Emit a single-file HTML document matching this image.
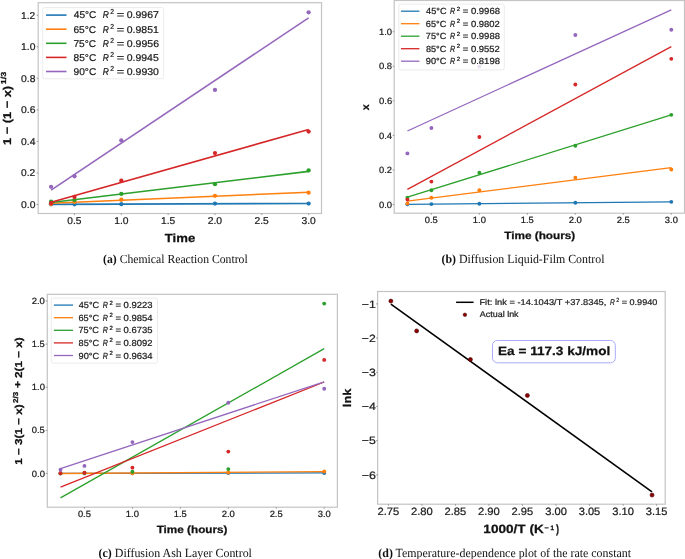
<!DOCTYPE html><html><head><meta charset="utf-8"><style>html,body{margin:0;padding:0;background:#fff;}svg{display:block;text-rendering:geometricPrecision;will-change:transform;} text{stroke:currentColor;stroke-width:0.22px;} text[font-weight=bold]{stroke-width:0.25px;}</style></head><body>
<svg width="685" height="559" viewBox="0 0 685 559" font-family='"Liberation Sans", sans-serif'>
<rect x="38.20" y="2.70" width="283.30" height="210.80" fill="none" stroke="#c4c4c4" stroke-width="1.2"/>
<circle cx="51.08" cy="204.34" r="2.15" fill="#1f77b4"/>
<circle cx="74.49" cy="204.34" r="2.15" fill="#1f77b4"/>
<circle cx="121.32" cy="204.18" r="2.15" fill="#1f77b4"/>
<circle cx="214.97" cy="203.55" r="2.15" fill="#1f77b4"/>
<circle cx="308.62" cy="203.55" r="2.15" fill="#1f77b4"/>
<line x1="51.08" y1="204.37" x2="308.62" y2="203.44" stroke="#1f77b4" stroke-width="1.6"/>
<circle cx="51.08" cy="204.03" r="2.15" fill="#ff7f0e"/>
<circle cx="74.49" cy="201.90" r="2.15" fill="#ff7f0e"/>
<circle cx="121.32" cy="199.77" r="2.15" fill="#ff7f0e"/>
<circle cx="214.97" cy="195.79" r="2.15" fill="#ff7f0e"/>
<circle cx="308.62" cy="192.67" r="2.15" fill="#ff7f0e"/>
<line x1="51.08" y1="203.23" x2="308.62" y2="192.23" stroke="#ff7f0e" stroke-width="1.6"/>
<circle cx="51.08" cy="201.66" r="2.15" fill="#2ca02c"/>
<circle cx="74.49" cy="200.10" r="2.15" fill="#2ca02c"/>
<circle cx="121.32" cy="193.93" r="2.15" fill="#2ca02c"/>
<circle cx="214.97" cy="184.15" r="2.15" fill="#2ca02c"/>
<circle cx="308.62" cy="170.43" r="2.15" fill="#2ca02c"/>
<line x1="51.08" y1="202.51" x2="308.62" y2="171.37" stroke="#2ca02c" stroke-width="1.6"/>
<circle cx="51.08" cy="203.24" r="2.15" fill="#d62728"/>
<circle cx="74.49" cy="196.99" r="2.15" fill="#d62728"/>
<circle cx="121.32" cy="180.68" r="2.15" fill="#d62728"/>
<circle cx="214.97" cy="153.07" r="2.15" fill="#d62728"/>
<circle cx="308.62" cy="131.62" r="2.15" fill="#d62728"/>
<line x1="51.08" y1="202.22" x2="308.62" y2="129.47" stroke="#d62728" stroke-width="1.6"/>
<circle cx="51.08" cy="186.83" r="2.15" fill="#9467bd"/>
<circle cx="74.49" cy="176.26" r="2.15" fill="#9467bd"/>
<circle cx="121.32" cy="140.45" r="2.15" fill="#9467bd"/>
<circle cx="214.97" cy="89.97" r="2.15" fill="#9467bd"/>
<circle cx="308.62" cy="12.36" r="2.15" fill="#9467bd"/>
<line x1="51.08" y1="190.06" x2="308.62" y2="17.85" stroke="#9467bd" stroke-width="1.6"/>
<line x1="74.49" y1="213.50" x2="74.49" y2="215.10" stroke="#666" stroke-width="0.6"/>
<text x="67.31" y="223.59" font-size="9.86" textLength="14.19" lengthAdjust="spacingAndGlyphs" fill="#1a1a1a" color="#1a1a1a">0.5</text>
<line x1="121.32" y1="213.50" x2="121.32" y2="215.10" stroke="#666" stroke-width="0.6"/>
<text x="114.16" y="223.59" font-size="9.86" textLength="14.34" lengthAdjust="spacingAndGlyphs" fill="#1a1a1a" color="#1a1a1a">1.0</text>
<line x1="168.14" y1="213.50" x2="168.14" y2="215.10" stroke="#666" stroke-width="0.6"/>
<text x="160.99" y="223.59" font-size="9.86" textLength="14.16" lengthAdjust="spacingAndGlyphs" fill="#1a1a1a" color="#1a1a1a">1.5</text>
<line x1="214.97" y1="213.50" x2="214.97" y2="215.10" stroke="#666" stroke-width="0.6"/>
<text x="207.73" y="223.59" font-size="9.86" textLength="14.42" lengthAdjust="spacingAndGlyphs" fill="#1a1a1a" color="#1a1a1a">2.0</text>
<line x1="261.80" y1="213.50" x2="261.80" y2="215.10" stroke="#666" stroke-width="0.6"/>
<text x="254.57" y="223.59" font-size="9.86" textLength="14.24" lengthAdjust="spacingAndGlyphs" fill="#1a1a1a" color="#1a1a1a">2.5</text>
<line x1="308.62" y1="213.50" x2="308.62" y2="215.10" stroke="#666" stroke-width="0.6"/>
<text x="301.55" y="223.59" font-size="9.86" textLength="14.26" lengthAdjust="spacingAndGlyphs" fill="#1a1a1a" color="#1a1a1a">3.0</text>
<line x1="36.60" y1="204.50" x2="38.20" y2="204.50" stroke="#666" stroke-width="0.6"/>
<text x="21.02" y="207.89" font-size="9.86" textLength="14.37" lengthAdjust="spacingAndGlyphs" fill="#1a1a1a" color="#1a1a1a">0.0</text>
<line x1="36.60" y1="172.95" x2="38.20" y2="172.95" stroke="#666" stroke-width="0.6"/>
<text x="21.03" y="176.34" font-size="9.86" textLength="14.16" lengthAdjust="spacingAndGlyphs" fill="#1a1a1a" color="#1a1a1a">0.2</text>
<line x1="36.60" y1="141.40" x2="38.20" y2="141.40" stroke="#666" stroke-width="0.6"/>
<text x="21.02" y="144.79" font-size="9.86" textLength="14.36" lengthAdjust="spacingAndGlyphs" fill="#1a1a1a" color="#1a1a1a">0.4</text>
<line x1="36.60" y1="109.85" x2="38.20" y2="109.85" stroke="#666" stroke-width="0.6"/>
<text x="21.02" y="113.24" font-size="9.86" textLength="14.45" lengthAdjust="spacingAndGlyphs" fill="#1a1a1a" color="#1a1a1a">0.6</text>
<line x1="36.60" y1="78.30" x2="38.20" y2="78.30" stroke="#666" stroke-width="0.6"/>
<text x="21.02" y="81.69" font-size="9.86" textLength="14.40" lengthAdjust="spacingAndGlyphs" fill="#1a1a1a" color="#1a1a1a">0.8</text>
<line x1="36.60" y1="46.75" x2="38.20" y2="46.75" stroke="#666" stroke-width="0.6"/>
<text x="21.05" y="50.14" font-size="9.86" textLength="14.34" lengthAdjust="spacingAndGlyphs" fill="#1a1a1a" color="#1a1a1a">1.0</text>
<line x1="36.60" y1="15.20" x2="38.20" y2="15.20" stroke="#666" stroke-width="0.6"/>
<text x="21.06" y="18.59" font-size="9.86" textLength="14.12" lengthAdjust="spacingAndGlyphs" fill="#1a1a1a" color="#1a1a1a">1.2</text>
<rect x="42.7" y="7.6" width="121" height="71.2" rx="2" fill="#fff" fill-opacity="0.8" stroke="#e6e6e6" stroke-width="0.8"/>
<line x1="46.00" y1="15.10" x2="66.50" y2="15.10" stroke="#1f77b4" stroke-width="1.6"/>
<text x="73.77" y="18.49" font-size="9.86" textLength="22.64" lengthAdjust="spacingAndGlyphs" fill="#1a1a1a" color="#1a1a1a">45°C</text>
<text x="102.74" y="18.49" font-size="9.86" font-style="italic" textLength="6.12" lengthAdjust="spacingAndGlyphs" fill="#1a1a1a" color="#1a1a1a">R</text>
<text x="110.36" y="14.49" font-size="7.29" textLength="3.78" lengthAdjust="spacingAndGlyphs" fill="#1a1a1a" color="#1a1a1a">2</text>
<text x="116.68" y="18.49" font-size="9.86" textLength="7.45" lengthAdjust="spacingAndGlyphs" fill="#1a1a1a" color="#1a1a1a">=</text>
<text x="126.79" y="18.49" font-size="9.86" textLength="32.07" lengthAdjust="spacingAndGlyphs" fill="#1a1a1a" color="#1a1a1a">0.9967</text>
<line x1="46.00" y1="29.20" x2="66.50" y2="29.20" stroke="#ff7f0e" stroke-width="1.6"/>
<text x="73.48" y="32.59" font-size="9.86" textLength="22.73" lengthAdjust="spacingAndGlyphs" fill="#1a1a1a" color="#1a1a1a">65°C</text>
<text x="102.74" y="32.59" font-size="9.86" font-style="italic" textLength="6.12" lengthAdjust="spacingAndGlyphs" fill="#1a1a1a" color="#1a1a1a">R</text>
<text x="110.36" y="28.59" font-size="7.29" textLength="3.78" lengthAdjust="spacingAndGlyphs" fill="#1a1a1a" color="#1a1a1a">2</text>
<text x="116.68" y="32.59" font-size="9.86" textLength="7.45" lengthAdjust="spacingAndGlyphs" fill="#1a1a1a" color="#1a1a1a">=</text>
<text x="126.79" y="32.59" font-size="9.86" textLength="31.99" lengthAdjust="spacingAndGlyphs" fill="#1a1a1a" color="#1a1a1a">0.9851</text>
<line x1="46.00" y1="43.30" x2="66.50" y2="43.30" stroke="#2ca02c" stroke-width="1.6"/>
<text x="73.48" y="46.69" font-size="9.86" textLength="22.61" lengthAdjust="spacingAndGlyphs" fill="#1a1a1a" color="#1a1a1a">75°C</text>
<text x="102.74" y="46.69" font-size="9.86" font-style="italic" textLength="6.12" lengthAdjust="spacingAndGlyphs" fill="#1a1a1a" color="#1a1a1a">R</text>
<text x="110.36" y="42.69" font-size="7.29" textLength="3.78" lengthAdjust="spacingAndGlyphs" fill="#1a1a1a" color="#1a1a1a">2</text>
<text x="116.68" y="46.69" font-size="9.86" textLength="7.45" lengthAdjust="spacingAndGlyphs" fill="#1a1a1a" color="#1a1a1a">=</text>
<text x="126.79" y="46.69" font-size="9.86" textLength="32.22" lengthAdjust="spacingAndGlyphs" fill="#1a1a1a" color="#1a1a1a">0.9956</text>
<line x1="46.00" y1="57.40" x2="66.50" y2="57.40" stroke="#d62728" stroke-width="1.6"/>
<text x="73.56" y="60.79" font-size="9.86" textLength="22.67" lengthAdjust="spacingAndGlyphs" fill="#1a1a1a" color="#1a1a1a">85°C</text>
<text x="102.74" y="60.79" font-size="9.86" font-style="italic" textLength="6.12" lengthAdjust="spacingAndGlyphs" fill="#1a1a1a" color="#1a1a1a">R</text>
<text x="110.36" y="56.79" font-size="7.29" textLength="3.78" lengthAdjust="spacingAndGlyphs" fill="#1a1a1a" color="#1a1a1a">2</text>
<text x="116.68" y="60.79" font-size="9.86" textLength="7.45" lengthAdjust="spacingAndGlyphs" fill="#1a1a1a" color="#1a1a1a">=</text>
<text x="126.79" y="60.79" font-size="9.86" textLength="31.96" lengthAdjust="spacingAndGlyphs" fill="#1a1a1a" color="#1a1a1a">0.9945</text>
<line x1="46.00" y1="71.50" x2="66.50" y2="71.50" stroke="#9467bd" stroke-width="1.6"/>
<text x="73.52" y="74.89" font-size="9.86" textLength="22.75" lengthAdjust="spacingAndGlyphs" fill="#1a1a1a" color="#1a1a1a">90°C</text>
<text x="102.74" y="74.89" font-size="9.86" font-style="italic" textLength="6.12" lengthAdjust="spacingAndGlyphs" fill="#1a1a1a" color="#1a1a1a">R</text>
<text x="110.36" y="70.89" font-size="7.29" textLength="3.78" lengthAdjust="spacingAndGlyphs" fill="#1a1a1a" color="#1a1a1a">2</text>
<text x="116.68" y="74.89" font-size="9.86" textLength="7.45" lengthAdjust="spacingAndGlyphs" fill="#1a1a1a" color="#1a1a1a">=</text>
<text x="126.79" y="74.89" font-size="9.86" textLength="32.13" lengthAdjust="spacingAndGlyphs" fill="#1a1a1a" color="#1a1a1a">0.9930</text>
<text transform="translate(10.60,145.01) rotate(-90)" font-size="11.24" font-weight="bold" textLength="59.15" lengthAdjust="spacingAndGlyphs" fill="#111" color="#111">1 − (1 − x)</text>
<text transform="translate(6.30,84.27) rotate(-90)" font-size="7.31" font-weight="bold" textLength="12.60" lengthAdjust="spacingAndGlyphs" fill="#111" color="#111">1/3</text>
<text x="164.85" y="242.10" font-size="11.66" font-weight="bold" textLength="30.39" lengthAdjust="spacingAndGlyphs" fill="#111" color="#111">Time</text>
<text x="175.40" y="263.00" font-family='"Liberation Serif", serif' font-size="12.29" text-anchor="middle" textLength="144.59" lengthAdjust="spacingAndGlyphs" fill="#111" style="stroke:none"><tspan font-weight="bold">(a)</tspan> Chemical Reaction Control</text>
<circle cx="407.40" cy="204.25" r="1.95" fill="#1f77b4"/>
<circle cx="431.39" cy="204.08" r="1.95" fill="#1f77b4"/>
<circle cx="479.37" cy="203.74" r="1.95" fill="#1f77b4"/>
<circle cx="575.34" cy="202.80" r="1.95" fill="#1f77b4"/>
<circle cx="671.30" cy="201.83" r="1.95" fill="#1f77b4"/>
<line x1="407.40" y1="204.32" x2="671.30" y2="201.88" stroke="#1f77b4" stroke-width="1.3"/>
<circle cx="407.40" cy="203.39" r="1.95" fill="#ff7f0e"/>
<circle cx="431.39" cy="197.68" r="1.95" fill="#ff7f0e"/>
<circle cx="479.37" cy="190.25" r="1.95" fill="#ff7f0e"/>
<circle cx="575.34" cy="177.63" r="1.95" fill="#ff7f0e"/>
<circle cx="671.30" cy="169.50" r="1.95" fill="#ff7f0e"/>
<line x1="407.40" y1="201.06" x2="671.30" y2="167.63" stroke="#ff7f0e" stroke-width="1.3"/>
<circle cx="407.40" cy="197.68" r="1.95" fill="#2ca02c"/>
<circle cx="431.39" cy="190.25" r="1.95" fill="#2ca02c"/>
<circle cx="479.37" cy="172.79" r="1.95" fill="#2ca02c"/>
<circle cx="575.34" cy="145.81" r="1.95" fill="#2ca02c"/>
<circle cx="671.30" cy="114.86" r="1.95" fill="#2ca02c"/>
<line x1="407.40" y1="197.14" x2="671.30" y2="114.99" stroke="#2ca02c" stroke-width="1.3"/>
<circle cx="407.40" cy="199.59" r="1.95" fill="#d62728"/>
<circle cx="431.39" cy="181.60" r="1.95" fill="#d62728"/>
<circle cx="479.37" cy="137.00" r="1.95" fill="#d62728"/>
<circle cx="575.34" cy="84.43" r="1.95" fill="#d62728"/>
<circle cx="671.30" cy="58.85" r="1.95" fill="#d62728"/>
<line x1="407.40" y1="189.38" x2="671.30" y2="46.66" stroke="#d62728" stroke-width="1.3"/>
<circle cx="407.40" cy="153.42" r="1.95" fill="#9467bd"/>
<circle cx="431.39" cy="128.01" r="1.95" fill="#9467bd"/>
<circle cx="479.37" cy="66.45" r="1.95" fill="#9467bd"/>
<circle cx="575.34" cy="34.99" r="1.95" fill="#9467bd"/>
<circle cx="671.30" cy="29.69" r="1.95" fill="#9467bd"/>
<line x1="407.40" y1="130.97" x2="671.30" y2="9.82" stroke="#9467bd" stroke-width="1.3"/>
<rect x="394.20" y="0.50" width="290.30" height="212.70" fill="none" stroke="#c4c4c4" stroke-width="1.2"/>
<line x1="431.39" y1="213.20" x2="431.39" y2="214.80" stroke="#666" stroke-width="0.6"/>
<text x="424.82" y="222.70" font-size="9.01" textLength="12.97" lengthAdjust="spacingAndGlyphs" fill="#1a1a1a" color="#1a1a1a">0.5</text>
<line x1="479.37" y1="213.20" x2="479.37" y2="214.80" stroke="#666" stroke-width="0.6"/>
<text x="472.83" y="222.70" font-size="9.01" textLength="13.11" lengthAdjust="spacingAndGlyphs" fill="#1a1a1a" color="#1a1a1a">1.0</text>
<line x1="527.35" y1="213.20" x2="527.35" y2="214.80" stroke="#666" stroke-width="0.6"/>
<text x="520.82" y="222.70" font-size="9.01" textLength="12.94" lengthAdjust="spacingAndGlyphs" fill="#1a1a1a" color="#1a1a1a">1.5</text>
<line x1="575.34" y1="213.20" x2="575.34" y2="214.80" stroke="#666" stroke-width="0.6"/>
<text x="568.72" y="222.70" font-size="9.01" textLength="13.18" lengthAdjust="spacingAndGlyphs" fill="#1a1a1a" color="#1a1a1a">2.0</text>
<line x1="623.32" y1="213.20" x2="623.32" y2="214.80" stroke="#666" stroke-width="0.6"/>
<text x="616.71" y="222.70" font-size="9.01" textLength="13.02" lengthAdjust="spacingAndGlyphs" fill="#1a1a1a" color="#1a1a1a">2.5</text>
<line x1="671.30" y1="213.20" x2="671.30" y2="214.80" stroke="#666" stroke-width="0.6"/>
<text x="664.84" y="222.70" font-size="9.01" textLength="13.03" lengthAdjust="spacingAndGlyphs" fill="#1a1a1a" color="#1a1a1a">3.0</text>
<line x1="392.60" y1="204.60" x2="394.20" y2="204.60" stroke="#666" stroke-width="0.6"/>
<text x="378.97" y="207.70" font-size="9.01" textLength="13.13" lengthAdjust="spacingAndGlyphs" fill="#1a1a1a" color="#1a1a1a">0.0</text>
<line x1="392.60" y1="170.02" x2="394.20" y2="170.02" stroke="#666" stroke-width="0.6"/>
<text x="378.98" y="173.12" font-size="9.01" textLength="12.94" lengthAdjust="spacingAndGlyphs" fill="#1a1a1a" color="#1a1a1a">0.2</text>
<line x1="392.60" y1="135.44" x2="394.20" y2="135.44" stroke="#666" stroke-width="0.6"/>
<text x="378.97" y="138.54" font-size="9.01" textLength="13.13" lengthAdjust="spacingAndGlyphs" fill="#1a1a1a" color="#1a1a1a">0.4</text>
<line x1="392.60" y1="100.86" x2="394.20" y2="100.86" stroke="#666" stroke-width="0.6"/>
<text x="378.97" y="103.96" font-size="9.01" textLength="13.21" lengthAdjust="spacingAndGlyphs" fill="#1a1a1a" color="#1a1a1a">0.6</text>
<line x1="392.60" y1="66.28" x2="394.20" y2="66.28" stroke="#666" stroke-width="0.6"/>
<text x="378.97" y="69.38" font-size="9.01" textLength="13.16" lengthAdjust="spacingAndGlyphs" fill="#1a1a1a" color="#1a1a1a">0.8</text>
<line x1="392.60" y1="31.70" x2="394.20" y2="31.70" stroke="#666" stroke-width="0.6"/>
<text x="379.00" y="34.80" font-size="9.01" textLength="13.11" lengthAdjust="spacingAndGlyphs" fill="#1a1a1a" color="#1a1a1a">1.0</text>
<rect x="398.8" y="4.1" width="105.5" height="65.8" rx="2" fill="#fff" fill-opacity="0.8" stroke="#e6e6e6" stroke-width="0.8"/>
<line x1="401.00" y1="11.20" x2="419.40" y2="11.20" stroke="#1f77b4" stroke-width="1.3"/>
<text x="426.09" y="14.26" font-size="8.90" textLength="20.45" lengthAdjust="spacingAndGlyphs" fill="#1a1a1a" color="#1a1a1a">45°C</text>
<text x="449.98" y="14.26" font-size="8.90" font-style="italic" textLength="5.14" lengthAdjust="spacingAndGlyphs" fill="#1a1a1a" color="#1a1a1a">R</text>
<text x="456.70" y="10.73" font-size="6.05" textLength="3.30" lengthAdjust="spacingAndGlyphs" fill="#1a1a1a" color="#1a1a1a">2</text>
<text x="462.74" y="14.26" font-size="8.90" textLength="5.53" lengthAdjust="spacingAndGlyphs" fill="#1a1a1a" color="#1a1a1a">=</text>
<text x="470.93" y="14.26" font-size="8.90" textLength="29.05" lengthAdjust="spacingAndGlyphs" fill="#1a1a1a" color="#1a1a1a">0.9968</text>
<line x1="401.00" y1="23.70" x2="419.40" y2="23.70" stroke="#ff7f0e" stroke-width="1.3"/>
<text x="425.83" y="26.76" font-size="8.90" textLength="20.53" lengthAdjust="spacingAndGlyphs" fill="#1a1a1a" color="#1a1a1a">65°C</text>
<text x="449.98" y="26.76" font-size="8.90" font-style="italic" textLength="5.14" lengthAdjust="spacingAndGlyphs" fill="#1a1a1a" color="#1a1a1a">R</text>
<text x="456.70" y="23.23" font-size="6.05" textLength="3.30" lengthAdjust="spacingAndGlyphs" fill="#1a1a1a" color="#1a1a1a">2</text>
<text x="462.74" y="26.76" font-size="8.90" textLength="5.53" lengthAdjust="spacingAndGlyphs" fill="#1a1a1a" color="#1a1a1a">=</text>
<text x="470.93" y="26.76" font-size="8.90" textLength="28.84" lengthAdjust="spacingAndGlyphs" fill="#1a1a1a" color="#1a1a1a">0.9802</text>
<line x1="401.00" y1="36.20" x2="419.40" y2="36.20" stroke="#2ca02c" stroke-width="1.3"/>
<text x="425.83" y="39.26" font-size="8.90" textLength="20.43" lengthAdjust="spacingAndGlyphs" fill="#1a1a1a" color="#1a1a1a">75°C</text>
<text x="449.98" y="39.26" font-size="8.90" font-style="italic" textLength="5.14" lengthAdjust="spacingAndGlyphs" fill="#1a1a1a" color="#1a1a1a">R</text>
<text x="456.70" y="35.73" font-size="6.05" textLength="3.30" lengthAdjust="spacingAndGlyphs" fill="#1a1a1a" color="#1a1a1a">2</text>
<text x="462.74" y="39.26" font-size="8.90" textLength="5.53" lengthAdjust="spacingAndGlyphs" fill="#1a1a1a" color="#1a1a1a">=</text>
<text x="470.93" y="39.26" font-size="8.90" textLength="29.05" lengthAdjust="spacingAndGlyphs" fill="#1a1a1a" color="#1a1a1a">0.9988</text>
<line x1="401.00" y1="48.70" x2="419.40" y2="48.70" stroke="#d62728" stroke-width="1.3"/>
<text x="425.90" y="51.76" font-size="8.90" textLength="20.48" lengthAdjust="spacingAndGlyphs" fill="#1a1a1a" color="#1a1a1a">85°C</text>
<text x="449.98" y="51.76" font-size="8.90" font-style="italic" textLength="5.14" lengthAdjust="spacingAndGlyphs" fill="#1a1a1a" color="#1a1a1a">R</text>
<text x="456.70" y="48.23" font-size="6.05" textLength="3.30" lengthAdjust="spacingAndGlyphs" fill="#1a1a1a" color="#1a1a1a">2</text>
<text x="462.74" y="51.76" font-size="8.90" textLength="5.53" lengthAdjust="spacingAndGlyphs" fill="#1a1a1a" color="#1a1a1a">=</text>
<text x="470.93" y="51.76" font-size="8.90" textLength="28.84" lengthAdjust="spacingAndGlyphs" fill="#1a1a1a" color="#1a1a1a">0.9552</text>
<line x1="401.00" y1="61.20" x2="419.40" y2="61.20" stroke="#9467bd" stroke-width="1.3"/>
<text x="425.87" y="64.26" font-size="8.90" textLength="20.55" lengthAdjust="spacingAndGlyphs" fill="#1a1a1a" color="#1a1a1a">90°C</text>
<text x="449.98" y="64.26" font-size="8.90" font-style="italic" textLength="5.14" lengthAdjust="spacingAndGlyphs" fill="#1a1a1a" color="#1a1a1a">R</text>
<text x="456.70" y="60.73" font-size="6.05" textLength="3.30" lengthAdjust="spacingAndGlyphs" fill="#1a1a1a" color="#1a1a1a">2</text>
<text x="462.74" y="64.26" font-size="8.90" textLength="5.53" lengthAdjust="spacingAndGlyphs" fill="#1a1a1a" color="#1a1a1a">=</text>
<text x="470.93" y="64.26" font-size="8.90" textLength="29.05" lengthAdjust="spacingAndGlyphs" fill="#1a1a1a" color="#1a1a1a">0.8198</text>
<text transform="translate(369.20,110.37) rotate(-90)" font-size="10.44" font-weight="bold" textLength="5.95" lengthAdjust="spacingAndGlyphs" fill="#111" color="#111">x</text>
<text x="504.27" y="239.00" font-size="10.44" font-weight="bold" textLength="71.02" lengthAdjust="spacingAndGlyphs" fill="#111" color="#111">Time (hours)</text>
<text x="523.00" y="262.90" font-family='"Liberation Serif", serif' font-size="12.44" text-anchor="middle" textLength="162.94" lengthAdjust="spacingAndGlyphs" fill="#111" style="stroke:none"><tspan font-weight="bold">(b)</tspan> Diffusion Liquid-Film Control</text>
<circle cx="60.49" cy="473.41" r="1.95" fill="#1f77b4"/>
<circle cx="84.46" cy="473.41" r="1.95" fill="#1f77b4"/>
<circle cx="132.41" cy="473.24" r="1.95" fill="#1f77b4"/>
<circle cx="228.31" cy="472.98" r="1.95" fill="#1f77b4"/>
<circle cx="324.21" cy="472.98" r="1.95" fill="#1f77b4"/>
<line x1="60.49" y1="473.40" x2="324.21" y2="472.91" stroke="#1f77b4" stroke-width="1.3"/>
<circle cx="60.49" cy="473.41" r="1.95" fill="#ff7f0e"/>
<circle cx="84.46" cy="473.15" r="1.95" fill="#ff7f0e"/>
<circle cx="132.41" cy="473.24" r="1.95" fill="#ff7f0e"/>
<circle cx="228.31" cy="472.46" r="1.95" fill="#ff7f0e"/>
<circle cx="324.21" cy="471.52" r="1.95" fill="#ff7f0e"/>
<line x1="60.49" y1="473.49" x2="324.21" y2="471.66" stroke="#ff7f0e" stroke-width="1.3"/>
<circle cx="60.49" cy="473.41" r="1.95" fill="#2ca02c"/>
<circle cx="84.46" cy="472.98" r="1.95" fill="#2ca02c"/>
<circle cx="132.41" cy="471.77" r="1.95" fill="#2ca02c"/>
<circle cx="228.31" cy="469.10" r="1.95" fill="#2ca02c"/>
<circle cx="324.21" cy="303.59" r="1.95" fill="#2ca02c"/>
<line x1="60.49" y1="497.84" x2="324.21" y2="348.67" stroke="#2ca02c" stroke-width="1.3"/>
<circle cx="60.49" cy="473.24" r="1.95" fill="#d62728"/>
<circle cx="84.46" cy="472.81" r="1.95" fill="#d62728"/>
<circle cx="132.41" cy="467.63" r="1.95" fill="#d62728"/>
<circle cx="228.31" cy="451.59" r="1.95" fill="#d62728"/>
<circle cx="324.21" cy="359.91" r="1.95" fill="#d62728"/>
<line x1="60.49" y1="487.08" x2="324.21" y2="381.98" stroke="#d62728" stroke-width="1.3"/>
<circle cx="60.49" cy="469.79" r="1.95" fill="#9467bd"/>
<circle cx="84.46" cy="465.91" r="1.95" fill="#9467bd"/>
<circle cx="132.41" cy="442.11" r="1.95" fill="#9467bd"/>
<circle cx="228.31" cy="402.77" r="1.95" fill="#9467bd"/>
<circle cx="324.21" cy="388.80" r="1.95" fill="#9467bd"/>
<line x1="60.49" y1="468.61" x2="324.21" y2="381.77" stroke="#9467bd" stroke-width="1.3"/>
<rect x="47.30" y="294.30" width="290.10" height="212.90" fill="none" stroke="#c4c4c4" stroke-width="1.2"/>
<line x1="84.46" y1="507.20" x2="84.46" y2="508.80" stroke="#666" stroke-width="0.6"/>
<text x="77.90" y="516.50" font-size="9.01" textLength="12.97" lengthAdjust="spacingAndGlyphs" fill="#1a1a1a" color="#1a1a1a">0.5</text>
<line x1="132.41" y1="507.20" x2="132.41" y2="508.80" stroke="#666" stroke-width="0.6"/>
<text x="125.87" y="516.50" font-size="9.01" textLength="13.11" lengthAdjust="spacingAndGlyphs" fill="#1a1a1a" color="#1a1a1a">1.0</text>
<line x1="180.36" y1="507.20" x2="180.36" y2="508.80" stroke="#666" stroke-width="0.6"/>
<text x="173.83" y="516.50" font-size="9.01" textLength="12.94" lengthAdjust="spacingAndGlyphs" fill="#1a1a1a" color="#1a1a1a">1.5</text>
<line x1="228.31" y1="507.20" x2="228.31" y2="508.80" stroke="#666" stroke-width="0.6"/>
<text x="221.70" y="516.50" font-size="9.01" textLength="13.18" lengthAdjust="spacingAndGlyphs" fill="#1a1a1a" color="#1a1a1a">2.0</text>
<line x1="276.26" y1="507.20" x2="276.26" y2="508.80" stroke="#666" stroke-width="0.6"/>
<text x="269.66" y="516.50" font-size="9.01" textLength="13.02" lengthAdjust="spacingAndGlyphs" fill="#1a1a1a" color="#1a1a1a">2.5</text>
<line x1="324.21" y1="507.20" x2="324.21" y2="508.80" stroke="#666" stroke-width="0.6"/>
<text x="317.75" y="516.50" font-size="9.01" textLength="13.03" lengthAdjust="spacingAndGlyphs" fill="#1a1a1a" color="#1a1a1a">3.0</text>
<line x1="45.70" y1="473.50" x2="47.30" y2="473.50" stroke="#666" stroke-width="0.6"/>
<text x="31.77" y="476.60" font-size="9.01" textLength="13.13" lengthAdjust="spacingAndGlyphs" fill="#1a1a1a" color="#1a1a1a">0.0</text>
<line x1="45.70" y1="430.38" x2="47.30" y2="430.38" stroke="#666" stroke-width="0.6"/>
<text x="31.78" y="433.47" font-size="9.01" textLength="12.97" lengthAdjust="spacingAndGlyphs" fill="#1a1a1a" color="#1a1a1a">0.5</text>
<line x1="45.70" y1="387.25" x2="47.30" y2="387.25" stroke="#666" stroke-width="0.6"/>
<text x="31.80" y="390.35" font-size="9.01" textLength="13.11" lengthAdjust="spacingAndGlyphs" fill="#1a1a1a" color="#1a1a1a">1.0</text>
<line x1="45.70" y1="344.12" x2="47.30" y2="344.12" stroke="#666" stroke-width="0.6"/>
<text x="31.81" y="347.22" font-size="9.01" textLength="12.94" lengthAdjust="spacingAndGlyphs" fill="#1a1a1a" color="#1a1a1a">1.5</text>
<line x1="45.70" y1="301.00" x2="47.30" y2="301.00" stroke="#666" stroke-width="0.6"/>
<text x="31.73" y="304.10" font-size="9.01" textLength="13.18" lengthAdjust="spacingAndGlyphs" fill="#1a1a1a" color="#1a1a1a">2.0</text>
<rect x="51.3" y="298.1" width="106.2" height="65.1" rx="2" fill="#fff" fill-opacity="0.8" stroke="#e6e6e6" stroke-width="0.8"/>
<line x1="53.90" y1="305.10" x2="73.00" y2="305.10" stroke="#1f77b4" stroke-width="1.3"/>
<text x="78.79" y="308.16" font-size="8.90" textLength="20.45" lengthAdjust="spacingAndGlyphs" fill="#1a1a1a" color="#1a1a1a">45°C</text>
<text x="102.68" y="308.16" font-size="8.90" font-style="italic" textLength="5.14" lengthAdjust="spacingAndGlyphs" fill="#1a1a1a" color="#1a1a1a">R</text>
<text x="109.40" y="304.63" font-size="6.05" textLength="3.30" lengthAdjust="spacingAndGlyphs" fill="#1a1a1a" color="#1a1a1a">2</text>
<text x="115.44" y="308.16" font-size="8.90" textLength="5.53" lengthAdjust="spacingAndGlyphs" fill="#1a1a1a" color="#1a1a1a">=</text>
<text x="123.63" y="308.16" font-size="8.90" textLength="28.95" lengthAdjust="spacingAndGlyphs" fill="#1a1a1a" color="#1a1a1a">0.9223</text>
<line x1="53.90" y1="317.70" x2="73.00" y2="317.70" stroke="#ff7f0e" stroke-width="1.3"/>
<text x="78.53" y="320.76" font-size="8.90" textLength="20.53" lengthAdjust="spacingAndGlyphs" fill="#1a1a1a" color="#1a1a1a">65°C</text>
<text x="102.68" y="320.76" font-size="8.90" font-style="italic" textLength="5.14" lengthAdjust="spacingAndGlyphs" fill="#1a1a1a" color="#1a1a1a">R</text>
<text x="109.40" y="317.23" font-size="6.05" textLength="3.30" lengthAdjust="spacingAndGlyphs" fill="#1a1a1a" color="#1a1a1a">2</text>
<text x="115.44" y="320.76" font-size="8.90" textLength="5.53" lengthAdjust="spacingAndGlyphs" fill="#1a1a1a" color="#1a1a1a">=</text>
<text x="123.63" y="320.76" font-size="8.90" textLength="29.01" lengthAdjust="spacingAndGlyphs" fill="#1a1a1a" color="#1a1a1a">0.9854</text>
<line x1="53.90" y1="330.30" x2="73.00" y2="330.30" stroke="#2ca02c" stroke-width="1.3"/>
<text x="78.53" y="333.36" font-size="8.90" textLength="20.43" lengthAdjust="spacingAndGlyphs" fill="#1a1a1a" color="#1a1a1a">75°C</text>
<text x="102.68" y="333.36" font-size="8.90" font-style="italic" textLength="5.14" lengthAdjust="spacingAndGlyphs" fill="#1a1a1a" color="#1a1a1a">R</text>
<text x="109.40" y="329.83" font-size="6.05" textLength="3.30" lengthAdjust="spacingAndGlyphs" fill="#1a1a1a" color="#1a1a1a">2</text>
<text x="115.44" y="333.36" font-size="8.90" textLength="5.53" lengthAdjust="spacingAndGlyphs" fill="#1a1a1a" color="#1a1a1a">=</text>
<text x="123.63" y="333.36" font-size="8.90" textLength="28.87" lengthAdjust="spacingAndGlyphs" fill="#1a1a1a" color="#1a1a1a">0.6735</text>
<line x1="53.90" y1="342.90" x2="73.00" y2="342.90" stroke="#d62728" stroke-width="1.3"/>
<text x="78.60" y="345.96" font-size="8.90" textLength="20.48" lengthAdjust="spacingAndGlyphs" fill="#1a1a1a" color="#1a1a1a">85°C</text>
<text x="102.68" y="345.96" font-size="8.90" font-style="italic" textLength="5.14" lengthAdjust="spacingAndGlyphs" fill="#1a1a1a" color="#1a1a1a">R</text>
<text x="109.40" y="342.43" font-size="6.05" textLength="3.30" lengthAdjust="spacingAndGlyphs" fill="#1a1a1a" color="#1a1a1a">2</text>
<text x="115.44" y="345.96" font-size="8.90" textLength="5.53" lengthAdjust="spacingAndGlyphs" fill="#1a1a1a" color="#1a1a1a">=</text>
<text x="123.63" y="345.96" font-size="8.90" textLength="28.84" lengthAdjust="spacingAndGlyphs" fill="#1a1a1a" color="#1a1a1a">0.8092</text>
<line x1="53.90" y1="355.50" x2="73.00" y2="355.50" stroke="#9467bd" stroke-width="1.3"/>
<text x="78.57" y="358.56" font-size="8.90" textLength="20.55" lengthAdjust="spacingAndGlyphs" fill="#1a1a1a" color="#1a1a1a">90°C</text>
<text x="102.68" y="358.56" font-size="8.90" font-style="italic" textLength="5.14" lengthAdjust="spacingAndGlyphs" fill="#1a1a1a" color="#1a1a1a">R</text>
<text x="109.40" y="355.03" font-size="6.05" textLength="3.30" lengthAdjust="spacingAndGlyphs" fill="#1a1a1a" color="#1a1a1a">2</text>
<text x="115.44" y="358.56" font-size="8.90" textLength="5.53" lengthAdjust="spacingAndGlyphs" fill="#1a1a1a" color="#1a1a1a">=</text>
<text x="123.63" y="358.56" font-size="8.90" textLength="29.01" lengthAdjust="spacingAndGlyphs" fill="#1a1a1a" color="#1a1a1a">0.9634</text>
<text transform="translate(22.10,464.74) rotate(-90)" font-size="10.07" font-weight="bold" textLength="60.52" lengthAdjust="spacingAndGlyphs" fill="#111" color="#111">1 − 3(1 − x)</text>
<text transform="translate(18.30,402.88) rotate(-90)" font-size="7.10" font-weight="bold" textLength="11.27" lengthAdjust="spacingAndGlyphs" fill="#111" color="#111">2/3</text>
<text transform="translate(21.30,388.10) rotate(-90)" font-size="10.07" font-weight="bold" textLength="6.99" lengthAdjust="spacingAndGlyphs" fill="#111" color="#111">+</text>
<text transform="translate(22.10,377.91) rotate(-90)" font-size="10.07" font-weight="bold" textLength="40.69" lengthAdjust="spacingAndGlyphs" fill="#111" color="#111">2(1 − x)</text>
<text x="156.67" y="532.90" font-size="10.44" font-weight="bold" textLength="70.81" lengthAdjust="spacingAndGlyphs" fill="#111" color="#111">Time (hours)</text>
<text x="175.25" y="556.50" font-family='"Liberation Serif", serif' font-size="12.44" text-anchor="middle" textLength="153.36" lengthAdjust="spacingAndGlyphs" fill="#111" style="stroke:none"><tspan font-weight="bold">(c)</tspan> Diffusion Ash Layer Control</text>
<rect x="377.60" y="291.50" width="287.60" height="212.70" fill="none" stroke="#c4c4c4" stroke-width="1.2"/>
<line x1="390.88" y1="304.05" x2="652.04" y2="491.94" stroke="#000" stroke-width="1.6"/>
<circle cx="390.88" cy="301.10" r="2.0" fill="#8b0000" stroke="#4a0000" stroke-width="0.6"/>
<circle cx="416.63" cy="330.88" r="2.0" fill="#8b0000" stroke="#4a0000" stroke-width="0.6"/>
<circle cx="470.40" cy="359.51" r="2.0" fill="#8b0000" stroke="#4a0000" stroke-width="0.6"/>
<circle cx="527.39" cy="395.49" r="2.0" fill="#8b0000" stroke="#4a0000" stroke-width="0.6"/>
<circle cx="652.04" cy="495.08" r="2.0" fill="#8b0000" stroke="#4a0000" stroke-width="0.6"/>
<line x1="388.40" y1="504.20" x2="388.40" y2="505.80" stroke="#666" stroke-width="0.6"/>
<text x="377.44" y="514.95" font-size="10.60" textLength="21.69" lengthAdjust="spacingAndGlyphs" fill="#1a1a1a" color="#1a1a1a">2.75</text>
<line x1="421.92" y1="504.20" x2="421.92" y2="505.80" stroke="#666" stroke-width="0.6"/>
<text x="410.96" y="514.95" font-size="10.60" textLength="21.87" lengthAdjust="spacingAndGlyphs" fill="#1a1a1a" color="#1a1a1a">2.80</text>
<line x1="455.45" y1="504.20" x2="455.45" y2="505.80" stroke="#666" stroke-width="0.6"/>
<text x="444.49" y="514.95" font-size="10.60" textLength="21.69" lengthAdjust="spacingAndGlyphs" fill="#1a1a1a" color="#1a1a1a">2.85</text>
<line x1="488.97" y1="504.20" x2="488.97" y2="505.80" stroke="#666" stroke-width="0.6"/>
<text x="478.01" y="514.95" font-size="10.60" textLength="21.87" lengthAdjust="spacingAndGlyphs" fill="#1a1a1a" color="#1a1a1a">2.90</text>
<line x1="522.50" y1="504.20" x2="522.50" y2="505.80" stroke="#666" stroke-width="0.6"/>
<text x="511.54" y="514.95" font-size="10.60" textLength="21.69" lengthAdjust="spacingAndGlyphs" fill="#1a1a1a" color="#1a1a1a">2.95</text>
<line x1="556.02" y1="504.20" x2="556.02" y2="505.80" stroke="#666" stroke-width="0.6"/>
<text x="545.23" y="514.95" font-size="10.60" textLength="21.70" lengthAdjust="spacingAndGlyphs" fill="#1a1a1a" color="#1a1a1a">3.00</text>
<line x1="589.55" y1="504.20" x2="589.55" y2="505.80" stroke="#666" stroke-width="0.6"/>
<text x="578.76" y="514.95" font-size="10.60" textLength="21.52" lengthAdjust="spacingAndGlyphs" fill="#1a1a1a" color="#1a1a1a">3.05</text>
<line x1="623.08" y1="504.20" x2="623.08" y2="505.80" stroke="#666" stroke-width="0.6"/>
<text x="612.28" y="514.95" font-size="10.60" textLength="21.70" lengthAdjust="spacingAndGlyphs" fill="#1a1a1a" color="#1a1a1a">3.10</text>
<line x1="656.60" y1="504.20" x2="656.60" y2="505.80" stroke="#666" stroke-width="0.6"/>
<text x="645.81" y="514.95" font-size="10.60" textLength="21.52" lengthAdjust="spacingAndGlyphs" fill="#1a1a1a" color="#1a1a1a">3.15</text>
<line x1="376.00" y1="303.90" x2="377.60" y2="303.90" stroke="#666" stroke-width="0.6"/>
<text x="361.81" y="307.54" font-size="10.60" textLength="13.96" lengthAdjust="spacingAndGlyphs" fill="#1a1a1a" color="#1a1a1a">−1</text>
<line x1="376.00" y1="338.10" x2="377.60" y2="338.10" stroke="#666" stroke-width="0.6"/>
<text x="361.82" y="341.74" font-size="10.60" textLength="13.89" lengthAdjust="spacingAndGlyphs" fill="#1a1a1a" color="#1a1a1a">−2</text>
<line x1="376.00" y1="372.30" x2="377.60" y2="372.30" stroke="#666" stroke-width="0.6"/>
<text x="361.81" y="375.94" font-size="10.60" textLength="14.03" lengthAdjust="spacingAndGlyphs" fill="#1a1a1a" color="#1a1a1a">−3</text>
<line x1="376.00" y1="406.50" x2="377.60" y2="406.50" stroke="#666" stroke-width="0.6"/>
<text x="361.81" y="410.14" font-size="10.60" textLength="14.09" lengthAdjust="spacingAndGlyphs" fill="#1a1a1a" color="#1a1a1a">−4</text>
<line x1="376.00" y1="440.70" x2="377.60" y2="440.70" stroke="#666" stroke-width="0.6"/>
<text x="361.82" y="444.34" font-size="10.60" textLength="13.92" lengthAdjust="spacingAndGlyphs" fill="#1a1a1a" color="#1a1a1a">−5</text>
<line x1="376.00" y1="474.90" x2="377.60" y2="474.90" stroke="#666" stroke-width="0.6"/>
<text x="361.80" y="478.54" font-size="10.60" textLength="14.21" lengthAdjust="spacingAndGlyphs" fill="#1a1a1a" color="#1a1a1a">−6</text>
<line x1="456.1" y1="302.3" x2="473.6" y2="302.3" stroke="#000" stroke-width="1.5"/>
<circle cx="464.9" cy="314.8" r="1.8" fill="#8b0000" stroke="#4a0000" stroke-width="0.5"/>
<text x="479.44" y="305.08" font-size="8.37" textLength="126.89" lengthAdjust="spacingAndGlyphs" fill="#1a1a1a" color="#1a1a1a">Fit: lnk = -14.1043/T +37.8345,</text>
<text x="610.00" y="305.08" font-size="8.37" font-style="italic" textLength="4.81" lengthAdjust="spacingAndGlyphs" fill="#1a1a1a" color="#1a1a1a">R</text>
<text x="616.14" y="302.31" font-size="6.11" textLength="2.93" lengthAdjust="spacingAndGlyphs" fill="#1a1a1a" color="#1a1a1a">2</text>
<text x="621.85" y="305.08" font-size="8.37" textLength="5.41" lengthAdjust="spacingAndGlyphs" fill="#1a1a1a" color="#1a1a1a">=</text>
<text x="629.55" y="305.08" font-size="8.37" textLength="27.71" lengthAdjust="spacingAndGlyphs" fill="#1a1a1a" color="#1a1a1a">0.9940</text>
<text x="479.88" y="316.58" font-size="8.37" textLength="38.70" lengthAdjust="spacingAndGlyphs" fill="#1a1a1a" color="#1a1a1a">Actual lnk</text>
<rect x="492.5" y="340.5" width="122.8" height="22.3" rx="4.8" fill="#fff" stroke="#a9abfb" stroke-width="1.0"/>
<text x="498.00" y="355.00" font-size="12.04" font-weight="bold" textLength="112.26" lengthAdjust="spacingAndGlyphs" fill="#111" color="#111">Ea = 117.3 kJ/mol</text>
<text transform="translate(350.90,407.20) rotate(-90)" font-size="11.24" font-weight="bold" textLength="18.69" lengthAdjust="spacingAndGlyphs" fill="#111" color="#111">lnk</text>
<text x="483.34" y="533.10" font-size="11.98" font-weight="bold" textLength="60.38" lengthAdjust="spacingAndGlyphs" fill="#111" color="#111">1000/T (K</text>
<text x="544.60" y="529.70" font-size="6.50" font-weight="bold" textLength="4.19" lengthAdjust="spacingAndGlyphs" fill="#111" color="#111">−</text>
<text x="550.51" y="529.60" font-size="6.50" font-weight="bold" textLength="3.47" lengthAdjust="spacingAndGlyphs" fill="#111" color="#111">1</text>
<text x="556.09" y="533.10" font-size="11.98" font-weight="bold" textLength="3.07" lengthAdjust="spacingAndGlyphs" fill="#111" color="#111">)</text>
<text x="504.65" y="556.70" font-family='"Liberation Serif", serif' font-size="12.44" text-anchor="middle" textLength="252.69" lengthAdjust="spacingAndGlyphs" fill="#111" style="stroke:none"><tspan font-weight="bold">(d)</tspan> Temperature-dependence plot of the rate constant</text>
</svg></body></html>
